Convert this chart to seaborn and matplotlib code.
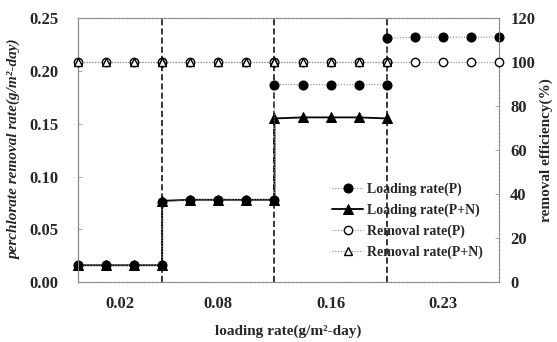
import numpy as np
import pandas as pd
import seaborn as sns
import matplotlib.pyplot as plt

# loading phases (x tick labels) and sample index where each phase starts / ends
loading_labels = ["0.02", "0.08", "0.16", "0.23"]
phase_bounds = [0, 3, 7, 11, 15]

# perchlorate removal rate (g/m2-day), one list per phase
loading_p = [
    [0.016, 0.016, 0.016, 0.016],
    [0.076, 0.078, 0.078, 0.078, 0.078],
    [0.187, 0.187, 0.187, 0.187, 0.187],
    [0.231, 0.232, 0.232, 0.232, 0.232],
]
loading_pn = [
    [0.016, 0.016, 0.016, 0.016],
    [0.077, 0.078, 0.078, 0.078, 0.078],
    [0.155, 0.156, 0.156, 0.156, 0.155],
]
# removal efficiency (%)
removal_p = [
    [100, 100, 100, 100],
    [100, 100, 100, 100, 100],
    [100, 100, 100, 100, 100],
    [100, 100, 100, 100, 100],
]
removal_pn = [
    [100, 100, 100, 100],
    [100, 100, 100, 100, 100],
    [100, 100, 100, 100, 100],
]


def to_frame(phases):
    rows = []
    for i, vals in enumerate(phases):
        start = phase_bounds[i]
        for k, v in enumerate(vals):
            rows.append({"sample": start + k, "value": v})
    return pd.DataFrame(rows)


sns.set_theme(style="white")
plt.rcParams["font.family"] = ["Liberation Serif", "DejaVu Serif"]
plt.rcParams["font.weight"] = "bold"

fig = plt.figure(figsize=(5.57, 3.42), dpi=100)
ax = fig.add_axes([0.140, 0.175, 0.756, 0.772])
ax2 = ax.twinx()

common = dict(x="sample", y="value", estimator=None, sort=False)

sns.lineplot(data=to_frame(loading_p), ax=ax, color="black", marker="o",
             markersize=6.5, linestyle=(0, (1, 1.5)), linewidth=0.8,
             markeredgecolor="black", clip_on=False, zorder=4, **common)
ax.lines[-1].set_color("#888888")
ax.lines[-1].set_markerfacecolor("black")
ax.lines[-1].set_markeredgecolor("black")

sns.lineplot(data=to_frame(loading_pn), ax=ax, color="black", marker="^",
             markersize=6.5, linestyle="-", linewidth=1.3,
             markeredgecolor="black", clip_on=False, zorder=3, **common)

sns.lineplot(data=to_frame(removal_p), ax=ax2, color="#888888", marker="o",
             markersize=6, linestyle=(0, (1, 1.5)), linewidth=0.8,
             markerfacecolor="white", markeredgecolor="black",
             markeredgewidth=1.0, clip_on=False, zorder=4, **common)
sns.lineplot(data=to_frame(removal_pn), ax=ax2, color="#888888", marker="^",
             markersize=5.5, linestyle=(0, (1, 1.5)), linewidth=0.8,
             markerfacecolor="white", markeredgecolor="black",
             markeredgewidth=1.0, clip_on=False, zorder=5, **common)

# phase boundaries
for b in phase_bounds[1:-1]:
    ax.axvline(b, color="black", linestyle=(0, (4, 2)), linewidth=1.1, zorder=2)

ax.set_xlim(phase_bounds[0], phase_bounds[-1])
ax.set_ylim(0, 0.25)
ax2.set_ylim(0, 120)

centers = [(phase_bounds[i] + phase_bounds[i + 1]) / 2 for i in range(len(loading_labels))]
ax.set_xticks(centers)
ax.set_xticklabels(loading_labels, fontsize=12, fontweight="bold")
ax.set_yticks(np.arange(0, 0.26, 0.05))
ax.set_yticklabels([f"{v:.2f}" for v in np.arange(0, 0.26, 0.05)], fontsize=12, fontweight="bold")
ax2.set_yticks(range(0, 121, 20))
ax2.set_yticklabels([str(v) for v in range(0, 121, 20)], fontsize=12, fontweight="bold")

ax.tick_params(axis="x", length=0, pad=10)
ax.tick_params(axis="y", direction="in", length=3, width=0.6, color="#999999", pad=14)
ax2.tick_params(axis="y", direction="in", length=3, width=0.6, color="#999999", pad=8)

ax.set_xlabel("loading rate(g/m²-day)", fontsize=11, fontweight="bold", labelpad=9)
ax.set_ylabel("perchlorate removal rate(g/m²-day)", fontsize=11, fontweight="bold",
              fontstyle="italic", labelpad=6)
ax2.set_ylabel("removal efficiency(%)", fontsize=11, fontweight="bold", labelpad=3)

for a in (ax, ax2):
    for side in ("top", "bottom", "right"):
        a.spines[side].set_linestyle((0, (2, 1.5)))
        a.spines[side].set_color("#888888")
        a.spines[side].set_linewidth(0.8)
    a.spines["left"].set_color("#888888")
    a.spines["left"].set_linewidth(0.8)

handles = ax.lines[:2] + ax2.lines[:2]
labels = ["Loading rate(P)", "Loading rate(P+N)", "Removal rate(P)", "Removal rate(P+N)"]
leg = ax2.legend(handles, labels, loc="lower right", bbox_to_anchor=(0.985, 0.05),
                 frameon=False, fontsize=10, handlelength=2.2, handletextpad=0.3,
                 labelspacing=0.55, borderpad=0.2)
for t in leg.get_texts():
    t.set_fontweight("bold")

fig.savefig("out.png", dpi=100)
